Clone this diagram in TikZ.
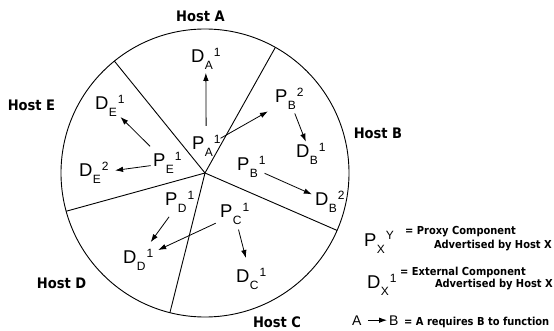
\documentclass[tikz,border=0pt]{standalone}
\usepackage{fontspec}
\setmainfont{Liberation Sans}
\newfontfamily\hostf{DejaVu Sans Condensed Bold}
\usetikzlibrary{arrows.meta,calc}
\newcommand{\cmp}[3]{{\fontsize{18.5}{18.5}\selectfont #1}\kern0.5pt{\fontsize{12}{12}\selectfont\raisebox{-7pt}{#2}\kern1pt\raisebox{6pt}{#3}}}
\tikzset{
  lbl/.style={inner sep=0pt, outer sep=0pt, anchor=base west},
  host/.style={font=\hostf\fontsize{14.5}{14.5}\selectfont, anchor=base, inner sep=0pt},
  leg/.style={font=\hostf\fontsize{11}{11}\selectfont, inner sep=0pt},
  arr/.style={-{Latex[length=8pt,width=5.5pt]}, line width=0.8pt},
  divider/.style={line width=0.9pt},
}
\begin{document}
\begin{tikzpicture}[x=1pt,y=-1pt]
\useasboundingbox (0,0) rectangle (554,331);
% pie
\coordinate (o) at (205,173);
\draw[divider] (o) circle[radius=144];
\draw[divider] (o) -- ++(-129:144);
\draw[divider] (o) -- ++(-60.75:144);
\draw[divider] (o) -- ++(23.5:144);
\draw[divider] (o) -- ++(104.1:144);
\draw[divider] (o) -- ++(164.6:144);
% hosts
\node[host] (ha) at (200.5,22) {Host A};
\node[host] (he) at (31.5,111) {Host E};
\node[host] (hb) at (378,139) {Host B};
\node[host] (hd) at (61.5,288) {Host D};
\node[host] (hc) at (277,327) {Host C};
% components
\node[lbl] (da) at (191,63) {\cmp{D}{A}{1}};
\node[lbl] (pa) at (192,150) {\cmp{P}{A}{1}};
\node[lbl] (pb2) at (275,103) {\cmp{P}{B}{2}};
\node[lbl] (db1) at (296,158) {\cmp{D}{B}{1}};
\node[lbl] (pb1) at (237,171) {\cmp{P}{B}{1}};
\node[lbl] (db2) at (315,206) {\cmp{D}{B}{2}};
\node[lbl] (pd) at (165,206) {\cmp{P}{D}{1}};
\node[lbl] (pc) at (220,218) {\cmp{P}{C}{1}};
\node[lbl] (dd) at (123,263) {\cmp{D}{D}{1}};
\node[lbl] (dc) at (236,282) {\cmp{D}{C}{1}};
\node[lbl] (de1) at (95,110) {\cmp{D}{E}{1}};
\node[lbl] (pe) at (153,167) {\cmp{P}{E}{1}};
\node[lbl] (de2) at (79,177) {\cmp{D}{E}{2}};
% requirements
\draw[arr] ($(pa)!0.236!(da)$) -- ($(pa)!0.845!(da)$);
\draw[arr] ($(pa)!0.172!(pb2)$) -- ($(pa)!0.743!(pb2)$);
\draw[arr] ($(pb2)!0.256!(db1)$) -- ($(pb2)!0.769!(db1)$);
\draw[arr] ($(pb1)!0.170!(db2)$) -- ($(pb1)!0.772!(db2)$);
\draw[arr] ($(pe)!0.299!(de1)$) -- ($(pe)!0.814!(de1)$);
\draw[arr] ($(pe)!0.226!(de2)$) -- ($(pe)!0.710!(de2)$);
\draw[arr] ($(pd)!0.254!(dd)$) -- ($(pd)!0.697!(dd)$);
\draw[arr] ($(pc)!0.196!(dd)$) -- ($(pc)!0.792!(dd)$);
\draw[arr] ($(pc)!0.237!(dc)$) -- ($(pc)!0.681!(dc)$);
% legend
\node[lbl] (lp) at (364,246) {\cmp{P}{X}{Y}};
\node[leg, anchor=base west] (lp1) at (405,234) {= Proxy Component};
\node[leg, anchor=base east] (lp2) at (552,248) {Advertised by Host X};
\node[lbl] (ld) at (367,288) {\cmp{D}{X}{1}};
\node[leg, anchor=base west] (ld1) at (400,275) {= External Component};
\node[leg, anchor=base east] (ld2) at (553,287) {Advertised by Host X};
\node[lbl, font=\fontsize{14}{14}\selectfont] (la) at (352,325) {A};
\node[lbl, font=\fontsize{14}{14}\selectfont] (lb) at (389,325) {B};
\node[leg, anchor=base west] (lt) at (404,325) {= A requires B to function};
\draw[arr, shorten <=6.5pt, shorten >=2pt] (la) -- (lb);
\end{tikzpicture}
\end{document}
